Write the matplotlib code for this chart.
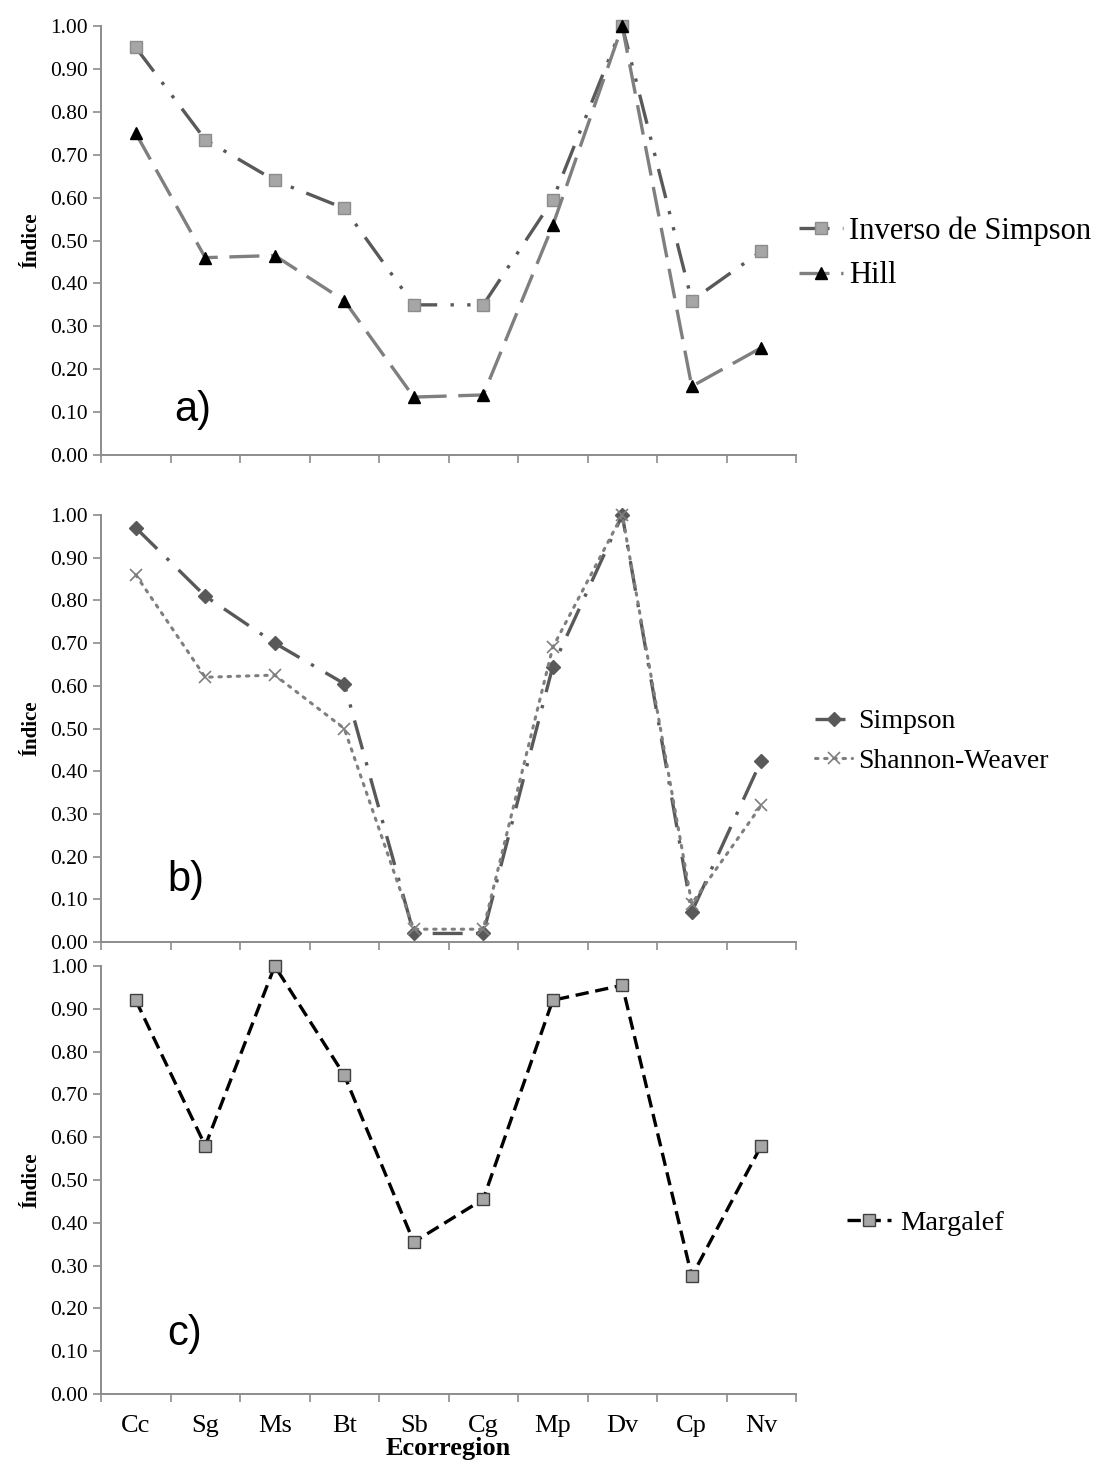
import matplotlib
matplotlib.use("Agg")
import matplotlib.pyplot as plt
import numpy as np

plt.rcParams['font.family'] = ['Liberation Serif', 'DejaVu Serif']

# categories (ecoregions)
ecorregion = ["Cc", "Sg", "Ms", "Bt", "Sb", "Cg", "Mp", "Dv", "Cp", "Nv"]

# panel a
inverso_simpson = [0.95, 0.735, 0.64, 0.575, 0.35, 0.35, 0.595, 1.00, 0.36, 0.475]
hill = [0.75, 0.46, 0.465, 0.36, 0.135, 0.14, 0.535, 1.00, 0.16, 0.25]

# panel b
simpson = [0.97, 0.81, 0.70, 0.605, 0.02, 0.02, 0.645, 1.00, 0.07, 0.425]
shannon = [0.86, 0.62, 0.625, 0.50, 0.03, 0.03, 0.69, 1.00, 0.09, 0.32]

# panel c
margalef = [0.92, 0.58, 1.00, 0.745, 0.355, 0.455, 0.92, 0.955, 0.275, 0.58]

yticks = np.arange(0, 1.01, 0.1)
x = np.arange(len(ecorregion))

W, H = 1111, 1467
fig = plt.figure(figsize=(W / 100, H / 100), dpi=100)

def px_axes(top, bottom, left=101, right=796):
    return fig.add_axes([left / W, 1 - bottom / H, (right - left) / W, (bottom - top) / H])

ax_a = px_axes(26, 455)
ax_b = px_axes(515, 942)
ax_c = px_axes(966, 1394)

spine_col = "#8c8c8c"

def style(ax, show_labels):
    ax.set_xlim(-0.5, len(ecorregion) - 0.5)
    ax.set_ylim(0, 1.0)
    ax.set_yticks(yticks)
    ax.set_yticklabels([f"{v:.2f}" for v in yticks], fontsize=15.5)
    ax.set_xticks(np.arange(-0.5, len(ecorregion), 1.0))
    ax.set_xticklabels([])
    ax.set_xticks(x, minor=True)
    if show_labels:
        ax.set_xticklabels(ecorregion, minor=True, fontsize=19)
    ax.tick_params(axis="x", which="minor", length=0, pad=15)
    ax.tick_params(axis="both", which="major", length=6, width=1.2, color=spine_col, direction="out")
    for s in ["top", "right"]:
        ax.spines[s].set_visible(False)
    for s in ["left", "bottom"]:
        ax.spines[s].set_color(spine_col)
        ax.spines[s].set_linewidth(1.4)
    ax.set_ylabel("Índice", fontsize=15, fontweight="bold", labelpad=6)

# panel a
ax_a.plot(x, inverso_simpson, color="#595959", lw=2.4, dashes=(9, 4, 1, 4, 1, 4),
          marker="s", ms=8, mfc="#a6a6a6", mec="#8c8c8c", clip_on=False, label="Inverso de Simpson")
ax_a.plot(x, hill, color="#7f7f7f", lw=2.4, dashes=(9, 3.5),
          marker="^", ms=9, mfc="black", mec="black", clip_on=False, label="Hill")
style(ax_a, False)
ax_a.text(0.55, 0.105, "a)", fontsize=30, family="Liberation Sans", va="center", ha="left")
ax_a.legend(loc="center left", bbox_to_anchor=(1.0, 0.47), frameon=False, fontsize=22,
            handlelength=1.45, handletextpad=0.2, labelspacing=0.5, borderpad=0, borderaxespad=0.1)

# panel b
ax_b.plot(x, simpson, color="#595959", lw=2.4, dashes=(9, 4, 1, 4),
          marker="D", ms=7, mfc="#595959", mec="#595959", clip_on=False, label="Simpson")
ax_b.plot(x, shannon, color="#7f7f7f", lw=2.2, dashes=(0.8, 2.2), dash_capstyle="round",
          marker="x", ms=8, mew=1.2, mfc="#7f7f7f", mec="#7f7f7f", clip_on=False, label="Shannon-Weaver")
style(ax_b, False)
ax_b.text(0.45, 0.145, "b)", fontsize=30, family="Liberation Sans", va="center", ha="left")
ax_b.legend(loc="center left", bbox_to_anchor=(1.0, 0.47), frameon=False, fontsize=20,
            handlelength=1.3, handletextpad=0.25, labelspacing=0.5, borderaxespad=0.3)

# panel c
ax_c.plot(x, margalef, color="black", lw=2.4, dashes=(4, 2),
          marker="s", ms=9, mfc="#a6a6a6", mec="#404040", mew=1.0, clip_on=False, label="Margalef")
style(ax_c, True)
ax_c.text(0.45, 0.14, "c)", fontsize=30, family="Liberation Sans", va="center", ha="left")
ax_c.legend(loc="center left", bbox_to_anchor=(1.0, 0.40), frameon=False, fontsize=20.5,
            handlelength=1.55, handletextpad=0.3, borderaxespad=1.4)
ax_c.set_xlabel("Ecorregion", fontsize=19, fontweight="bold", labelpad=0)

fig.savefig("out.png", dpi=100)
